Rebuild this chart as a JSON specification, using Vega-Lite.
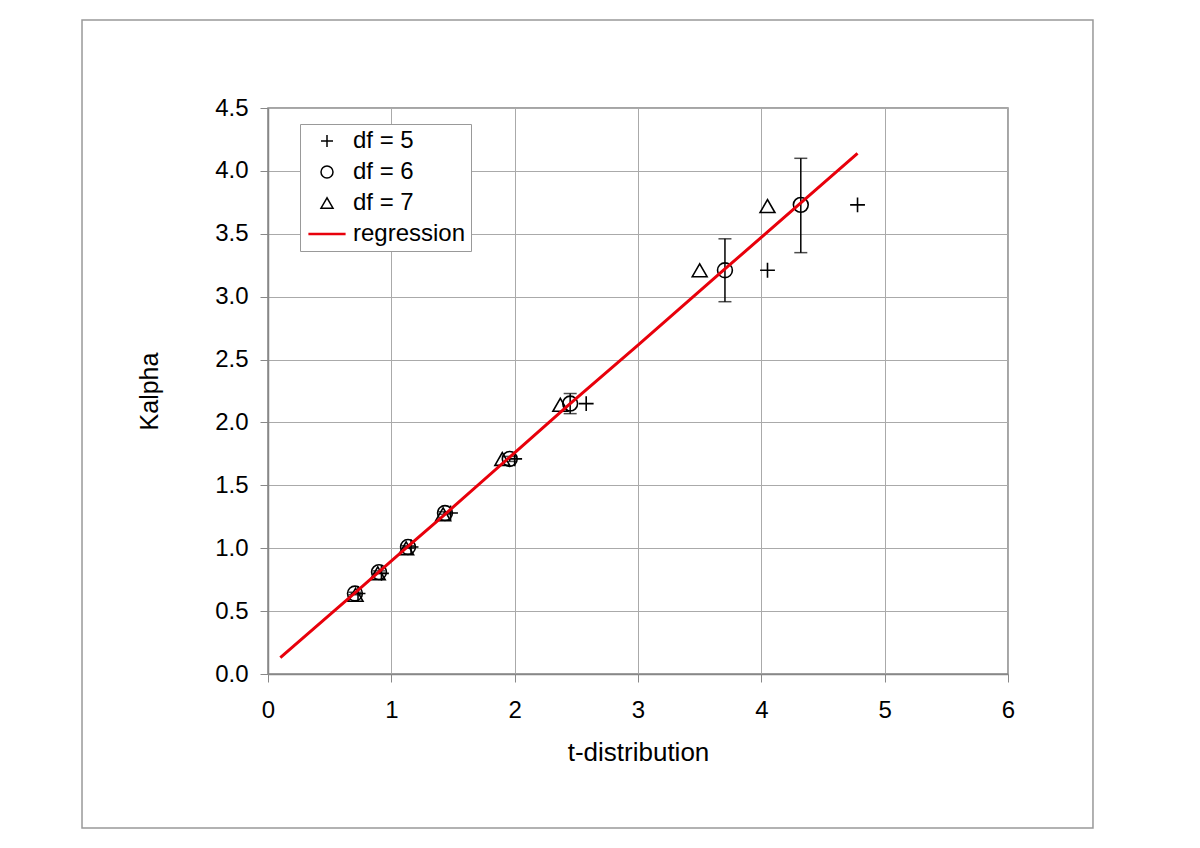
{
  "$schema": "https://vega.github.io/schema/vega-lite/v6.json",
  "autosize": "none",
  "width": 740,
  "height": 566,
  "padding": {"left": 268, "top": 108, "right": 192, "bottom": 174},
  "background": "white",
  "config": {
    "font": "Liberation Sans",
    "view": {"stroke": "#888", "strokeWidth": 1.5},
    "axis": {
      "gridColor": "#aaa",
      "gridWidth": 1,
      "domainColor": "#888",
      "domainWidth": 1.5,
      "tickColor": "#888",
      "tickSize": 8,
      "labelFontSize": 24,
      "labelColor": "black",
      "titleFontSize": 25,
      "titleFontWeight": "normal",
      "titleColor": "black"
    },
    "legend": {
      "labelFontSize": 24,
      "labelColor": "black",
      "orient": "none",
      "legendX": 32,
      "legendY": 16,
      "padding": 5,
      "strokeColor": "#999",
      "fillColor": "white",
      "symbolOffset": 10,
      "labelOffset": 14,
      "rowPadding": 7,
      "symbolSize": 144,
      "symbolStrokeWidth": 1.5
    }
  },
  "datasets": {
    "pts": [
      {"series": "df = 5", "x": 0.73, "y": 0.64},
      {"series": "df = 5", "x": 0.92, "y": 0.80},
      {"series": "df = 5", "x": 1.16, "y": 1.01},
      {"series": "df = 5", "x": 1.48, "y": 1.28},
      {"series": "df = 5", "x": 2.00, "y": 1.71},
      {"series": "df = 5", "x": 2.58, "y": 2.15},
      {"series": "df = 5", "x": 4.05, "y": 3.21},
      {"series": "df = 5", "x": 4.78, "y": 3.73},
      {"series": "df = 6", "x": 0.705, "y": 0.64},
      {"series": "df = 6", "x": 0.90, "y": 0.81},
      {"series": "df = 6", "x": 1.135, "y": 1.01},
      {"series": "df = 6", "x": 1.435, "y": 1.28},
      {"series": "df = 6", "x": 1.96, "y": 1.71},
      {"series": "df = 6", "x": 2.45, "y": 2.15},
      {"series": "df = 6", "x": 3.705, "y": 3.21},
      {"series": "df = 6", "x": 4.32, "y": 3.73},
      {"series": "df = 7", "x": 0.71, "y": 0.63},
      {"series": "df = 7", "x": 0.89, "y": 0.80},
      {"series": "df = 7", "x": 1.12, "y": 1.00},
      {"series": "df = 7", "x": 1.42, "y": 1.27},
      {"series": "df = 7", "x": 1.90, "y": 1.71},
      {"series": "df = 7", "x": 2.37, "y": 2.14},
      {"series": "df = 7", "x": 3.50, "y": 3.21},
      {"series": "df = 7", "x": 4.05, "y": 3.72}
    ],
    "err": [
      {"x": 0.705, "lo": 0.63, "hi": 0.65},
      {"x": 0.90, "lo": 0.80, "hi": 0.82},
      {"x": 1.135, "lo": 1.00, "hi": 1.02},
      {"x": 1.435, "lo": 1.27, "hi": 1.29},
      {"x": 1.96, "lo": 1.69, "hi": 1.73},
      {"x": 2.45, "lo": 2.07, "hi": 2.23},
      {"x": 3.705, "lo": 2.96, "hi": 3.46},
      {"x": 4.32, "lo": 3.35, "hi": 4.10}
    ],
    "reg": [
      {"x": 0.1, "y": 0.13},
      {"x": 0.705, "y": 0.645},
      {"x": 1.135, "y": 1.015},
      {"x": 1.435, "y": 1.27},
      {"x": 1.96, "y": 1.725},
      {"x": 2.45, "y": 2.15},
      {"x": 3.0, "y": 2.615},
      {"x": 3.705, "y": 3.22},
      {"x": 4.32, "y": 3.745},
      {"x": 4.78, "y": 4.14}
    ],
    "frame": [
      {"x1": -1.508, "x2": 6.689, "y1": -1.224, "y2": 5.199}
    ]
  },
  "layer": [
    {
      "data": {"name": "frame"},
      "mark": {"type": "rect", "fill": null, "stroke": "#999", "strokeWidth": 1.5, "clip": false},
      "encoding": {
        "x": {"field": "x1", "type": "quantitative", "scale": {"domain": [0, 6], "nice": false},
          "title": "t-distribution",
          "axis": {"values": [0, 1, 2, 3, 4, 5, 6], "format": "d", "labelPadding": 16, "titlePadding": 17, "titleFontSize": 26, "labelFlush": false}},
        "x2": {"field": "x2"},
        "y": {"field": "y1", "type": "quantitative", "scale": {"domain": [0, 4.5], "nice": false},
          "title": "Kalpha",
          "axis": {"values": [0, 0.5, 1, 1.5, 2, 2.5, 3, 3.5, 4, 4.5], "format": ".1f", "labelPadding": 12, "titlePadding": 52, "labelFlush": false}},
        "y2": {"field": "y2"}
      }
    },
    {
      "data": {"name": "err"},
      "mark": {"type": "rule", "color": "black", "strokeWidth": 1.5},
      "encoding": {
        "x": {"field": "x", "type": "quantitative"},
        "y": {"field": "lo", "type": "quantitative"},
        "y2": {"field": "hi"}
      }
    },
    {
      "data": {"name": "err"},
      "mark": {"type": "tick", "orient": "horizontal", "color": "black", "size": 13, "thickness": 1.5},
      "encoding": {
        "x": {"field": "x", "type": "quantitative"},
        "y": {"field": "lo", "type": "quantitative"}
      }
    },
    {
      "data": {"name": "err"},
      "mark": {"type": "tick", "orient": "horizontal", "color": "black", "size": 13, "thickness": 1.5},
      "encoding": {
        "x": {"field": "x", "type": "quantitative"},
        "y": {"field": "hi", "type": "quantitative"}
      }
    },
    {
      "data": {"name": "pts"},
      "mark": {"type": "point", "filled": false, "size": 220, "strokeWidth": 1.6, "opacity": 1},
      "encoding": {
        "x": {"field": "x", "type": "quantitative"},
        "y": {"field": "y", "type": "quantitative"},
        "shape": {
          "field": "series", "type": "nominal", "title": null,
          "scale": {
            "domain": ["df = 5", "df = 6", "df = 7", "regression"],
            "range": ["M-1,0H1M0,-1V1", "circle", "triangle-up", "M-3.1,0H3.1M-3.1,0.1H3.1M-3.1,-0.1H3.1"]
          }
        },
        "stroke": {
          "field": "series", "type": "nominal", "title": null,
          "scale": {
            "domain": ["df = 5", "df = 6", "df = 7", "regression"],
            "range": ["black", "black", "black", "#e8000b"]
          }
        }
      }
    },
    {
      "data": {"name": "reg"},
      "mark": {"type": "line", "strokeWidth": 3, "color": "#e8000b"},
      "encoding": {
        "x": {"field": "x", "type": "quantitative"},
        "y": {"field": "y", "type": "quantitative"}
      }
    }
  ]
}
